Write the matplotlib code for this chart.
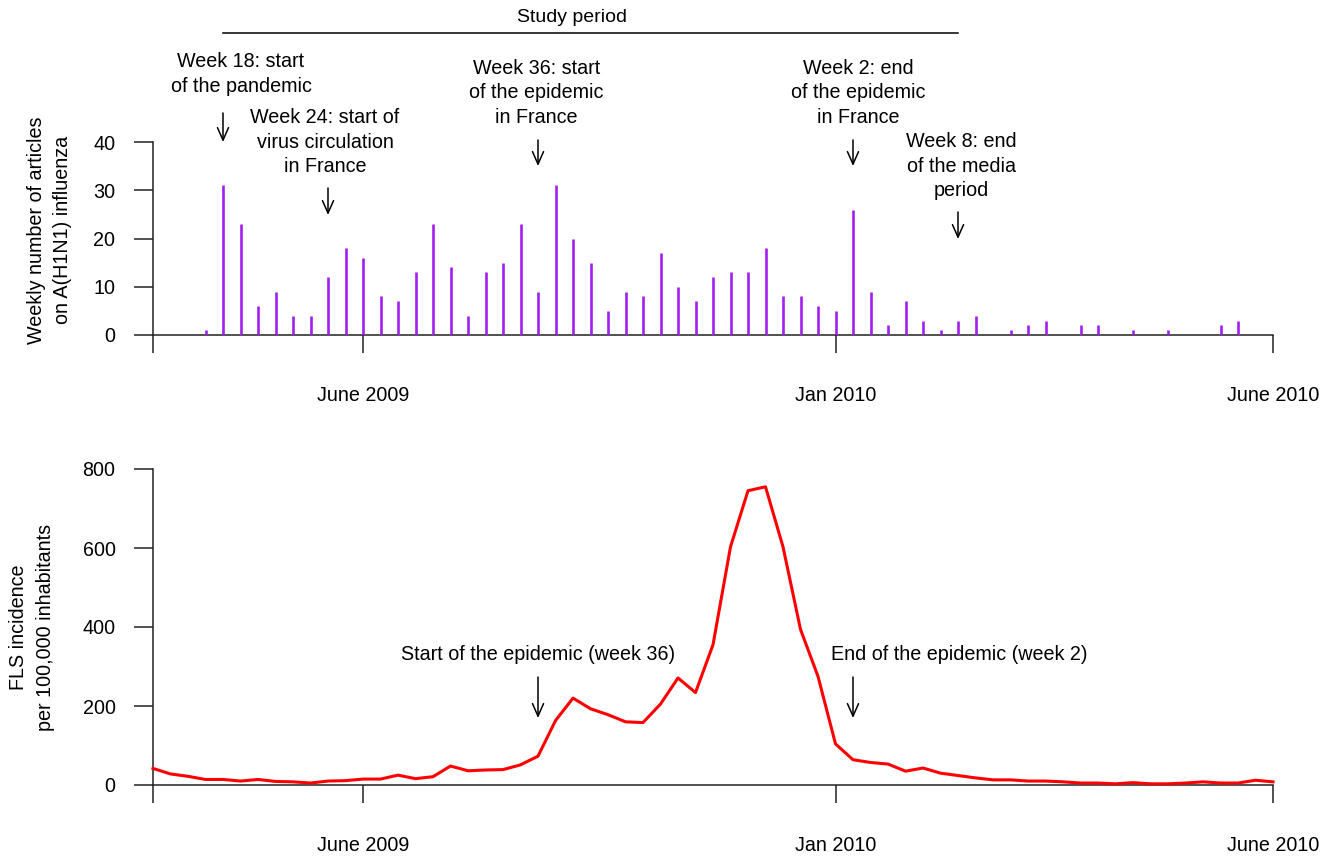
import matplotlib
matplotlib.use("Agg")
import matplotlib.pyplot as plt
import matplotlib.transforms as mtransforms
import numpy as np

plt.rcParams['font.family'] = ['Liberation Sans', 'DejaVu Sans']

# ---- data (weekly index 0..64, week 14 of 2009 = index 0) ----
weeks = list(range(65))
articles = [0, 0, 0, 1, 31, 23, 6, 9, 4, 4, 12, 18, 16, 8, 7, 13, 23, 14, 4, 13,
            15, 23, 9, 31, 20, 15, 5, 9, 8, 17, 10, 7, 12, 13, 13, 18, 8, 8, 6, 5,
            26, 9, 2, 7, 3, 1, 3, 4, 0, 1, 2, 3, 0, 2, 2, 0, 1, 0, 1, 0,
            0, 2, 3, 0, 0]
fls = [42, 28, 22, 14, 14, 10, 14, 9, 8, 5, 10, 11, 15, 15, 25, 16, 21, 48, 36, 38,
       39, 51, 73, 163, 220, 193, 178, 160, 158, 205, 271, 234, 355, 603, 745, 755, 603, 394, 275, 104,
       64, 57, 53, 35, 43, 30, 24, 18, 13, 13, 10, 10, 8, 5, 5, 3, 6, 3, 3, 5,
       8, 5, 5, 12, 8]
tick_pos = [0, 12, 39, 64]
tick_labels = ["", "June 2009", "Jan 2010", "June 2010"]

W, H = 1332, 856
fig = plt.figure(figsize=(W / 100, H / 100), dpi=100)
FS = 14.2

def fy(py):
    return 1 - py / H

def fx(px):
    return px / W

def style_axes(ax, ylim, yticks):
    ax.set_xlim(0, 64)
    ax.set_ylim(*ylim)
    ax.patch.set_alpha(0)
    ax.spines['top'].set_visible(False)
    ax.spines['right'].set_visible(False)
    for s in ('left', 'bottom'):
        ax.spines[s].set_linewidth(1.1)
        ax.spines[s].set_color('#222222')
    ax.set_xticks(tick_pos)
    ax.set_xticklabels(tick_labels, fontsize=FS)
    ax.set_yticks(yticks)
    ax.set_yticklabels([str(v) for v in yticks], fontsize=FS)
    ax.tick_params(axis='x', direction='out', length=13, width=1.1, pad=24, colors='#222222', labelcolor='black')
    ax.tick_params(axis='y', direction='out', length=14, width=1.1, pad=13, colors='#222222', labelcolor='black')

arrow_kw = dict(arrowstyle='->,head_length=0.45,head_width=0.2', lw=1.1, color='black',
                shrinkA=0, shrinkB=0, mutation_scale=20)

def arrow(ax, tr, x, y0, y1):
    ax.annotate('', xy=(x, fy(y1)), xytext=(x, fy(y0)), xycoords=tr, textcoords=tr,
                arrowprops=arrow_kw, annotation_clip=False)

def label(tr, x, ycenter, txt):
    fig.text(0, 0, txt, transform=tr, fontsize=FS, ha='center', va='center',
             linespacing=1.38).set_position((x, fy(ycenter)))

# ---- top panel ----
ax1 = fig.add_axes([153 / W, fy(335), (1273 - 153) / W, (335 - 142) / H])
ax1.vlines(weeks, 0, articles, color='#A020F0', lw=1.9, zorder=3)
style_axes(ax1, (0, 40), [0, 10, 20, 30, 40])
fig.text(fx(49.5), fy(230), "Weekly number of articles\non A(H1N1) influenza", fontsize=FS,
         rotation=90, ha='center', va='center', linespacing=1.47)

tr1 = mtransforms.blended_transform_factory(ax1.transData, fig.transFigure)

# study period
ax1.plot([4, 46], [fy(33), fy(33)], transform=tr1, color='black', lw=1.1, clip_on=False)
fig.text(0, 0, "Study period", transform=tr1, fontsize=14, ha='center',
         va='center').set_position((23.94, fy(18)))

label(tr1, 5.03, 74, "Week 18: start\nof the pandemic")
arrow(ax1, tr1, 4, 113, 142)
label(tr1, 9.83, 142, "Week 24: start of\nvirus circulation\nin France")
arrow(ax1, tr1, 10, 188, 215)
label(tr1, 21.9, 93, "Week 36: start\nof the epidemic\nin France")
arrow(ax1, tr1, 22, 140, 166)
label(tr1, 40.3, 93, "Week 2: end\nof the epidemic\nin France")
arrow(ax1, tr1, 40, 140, 166)
label(tr1, 46.2, 166, "Week 8: end\nof the media\nperiod")
arrow(ax1, tr1, 46, 212, 239)

# ---- bottom panel ----
ax2 = fig.add_axes([153 / W, fy(785), (1273 - 153) / W, (785 - 469) / H])
ax2.plot(weeks, fls, color='#FF0000', lw=2.2, clip_on=False, zorder=3)
style_axes(ax2, (0, 800), [0, 200, 400, 600, 800])
fig.text(fx(32), fy(627), "FLS incidence\nper 100,000 inhabitants", fontsize=FS,
         rotation=90, ha='center', va='center', linespacing=1.5)

tr2 = mtransforms.blended_transform_factory(ax2.transData, fig.transFigure)
label(tr2, 22, 655, "Start of the epidemic (week 36)")
arrow(ax2, tr2, 22, 677, 718)
label(tr2, 46.06, 655, "End of the epidemic (week 2)")
arrow(ax2, tr2, 40, 677, 718)

fig.savefig("out.png", dpi=100)
